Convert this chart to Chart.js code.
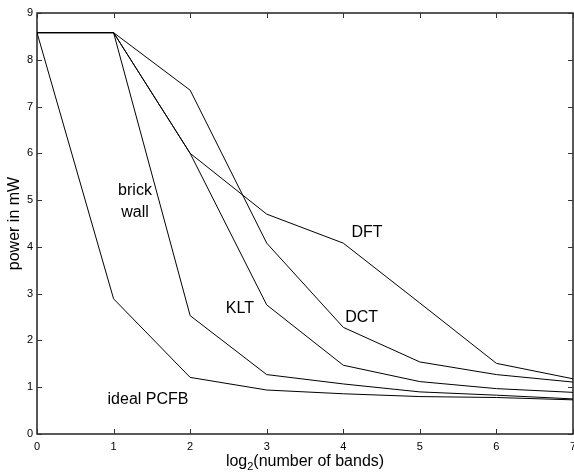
<!DOCTYPE html>
<html>
<head>
<meta charset="utf-8">
<script src="https://cdn.jsdelivr.net/npm/chart.js@4/dist/chart.umd.min.js"></script>
<style>
  html, body { margin: 0; padding: 0; background: #fff; }
  #wrap { width: 574px; height: 473px; position: relative; }
</style>
</head>
<body>
<div id="wrap"><canvas id="chart"></canvas></div>
<script>
const bands = [0, 1, 2, 3, 4, 5, 6, 7]
const idealPcfb = [8.58, 2.89, 1.21, 0.94, 0.86, 0.80, 0.78, 0.73]
const brickWall = [8.58, 8.58, 2.53, 1.27, 1.07, 0.90, 0.83, 0.75]
const klt = [8.58, 8.58, 6.0, 2.76, 1.47, 1.12, 0.97, 0.89]
const dct = [8.58, 8.58, 7.35, 4.08, 2.28, 1.54, 1.27, 1.11]
const dft = [8.58, 8.58, 6.0, 4.7, 4.08, 2.80, 1.51, 1.18]

const xTicks = [0, 1, 2, 3, 4, 5, 6, 7]
const yTicks = [0, 1, 2, 3, 4, 5, 6, 7, 8, 9]

// text labels placed in data coordinates
const notes = [
  { text: 'brick', x: 1.28, y: 5.2 },
  { text: 'wall', x: 1.28, y: 4.74 },
  { text: 'KLT', x: 2.65, y: 2.68 },
  { text: 'DCT', x: 4.24, y: 2.48 },
  { text: 'DFT', x: 4.31, y: 4.3 },
  { text: 'ideal PCFB', x: 1.45, y: 0.73 }
]

const FONT = 'Helvetica, "Liberation Sans", Arial, sans-serif'

function toPoints(values) {
  return values.map((v, i) => ({ x: bands[i], y: v }))
}

function lineSet(label, values) {
  return {
    label,
    data: toPoints(values),
    borderColor: '#000',
    borderWidth: 1,
    pointRadius: 0,
    tension: 0,
    fill: false
  }
}

const framePlugin = {
  id: 'frameAndText',
  afterDraw(chart) {
    const { ctx, chartArea: a, scales } = chart
    const xs = scales.x
    const ys = scales.y
    ctx.save()
    ctx.strokeStyle = '#000'
    ctx.lineWidth = 1.3
    ctx.strokeRect(a.left, a.top, a.right - a.left, a.bottom - a.top)

    // inward ticks on all four sides
    ctx.strokeStyle = '#333'
    ctx.lineWidth = 1
    const len = 5
    xTicks.forEach((t) => {
      const px = Math.round(xs.getPixelForValue(t)) + 0.5
      ctx.beginPath()
      ctx.moveTo(px, a.bottom); ctx.lineTo(px, a.bottom - len)
      ctx.moveTo(px, a.top); ctx.lineTo(px, a.top + len)
      ctx.stroke()
    })
    yTicks.forEach((t) => {
      const py = Math.round(ys.getPixelForValue(t)) + 0.5
      ctx.beginPath()
      ctx.moveTo(a.left, py); ctx.lineTo(a.left + len, py)
      ctx.moveTo(a.right, py); ctx.lineTo(a.right - len, py)
      ctx.stroke()
    })

    // curve labels
    ctx.fillStyle = '#000'
    ctx.font = '16px ' + FONT
    ctx.textAlign = 'center'
    ctx.textBaseline = 'middle'
    notes.forEach((n) => {
      ctx.fillText(n.text, xs.getPixelForValue(n.x), ys.getPixelForValue(n.y))
    })

    // y axis title
    ctx.save()
    ctx.translate(15, (a.top + a.bottom) / 2)
    ctx.rotate(-Math.PI / 2)
    ctx.fillText('power in mW', 0, 0)
    ctx.restore()

    // x axis title with subscript
    const big = '16px ' + FONT
    const small = '11px ' + FONT
    ctx.textAlign = 'left'
    ctx.textBaseline = 'alphabetic'
    ctx.font = big
    const w1 = ctx.measureText('log').width
    const w3 = ctx.measureText('(number of bands)').width
    ctx.font = small
    const w2 = ctx.measureText('2').width
    let x0 = (a.left + a.right) / 2 - (w1 + w2 + w3) / 2
    const base = 466
    ctx.font = big
    ctx.fillText('log', x0, base)
    ctx.font = small
    ctx.fillText('2', x0 + w1, base + 4)
    ctx.font = big
    ctx.fillText('(number of bands)', x0 + w1 + w2, base)
    ctx.restore()
  }
}

function noEdgePadding(scale) {
  scale.paddingLeft = 0
  scale.paddingRight = 0
  scale.paddingTop = 0
  scale.paddingBottom = 0
}

new Chart(document.getElementById('chart'), {
  type: 'line',
  data: {
    datasets: [
      lineSet('ideal PCFB', idealPcfb),
      lineSet('brick wall', brickWall),
      lineSet('KLT', klt),
      lineSet('DCT', dct),
      lineSet('DFT', dft)
    ]
  },
  plugins: [framePlugin],
  options: {
    responsive: true,
    maintainAspectRatio: false,
    animation: false,
    layout: {
      autoPadding: false,
      padding: { left: 0, right: 1, top: 13, bottom: 0 }
    },
    plugins: {
      legend: { display: false },
      tooltip: { enabled: false }
    },
    scales: {
      x: {
        type: 'linear',
        min: 0,
        max: 7,
        afterFit: (scale) => { scale.height = 39; noEdgePadding(scale) },
        afterBuildTicks: (scale) => { scale.ticks = xTicks.map((v) => ({ value: v })) },
        grid: { display: false, drawTicks: false },
        border: { display: false },
        ticks: {
          padding: 6,
          color: '#000',
          font: { family: FONT, size: 11 },
          maxRotation: 0
        }
      },
      y: {
        type: 'linear',
        min: 0,
        max: 9,
        afterFit: (scale) => { scale.width = 37; noEdgePadding(scale) },
        afterBuildTicks: (scale) => { scale.ticks = yTicks.map((v) => ({ value: v })) },
        grid: { display: false, drawTicks: false },
        border: { display: false },
        ticks: {
          padding: 4,
          color: '#000',
          font: { family: FONT, size: 11 }
        }
      }
    }
  }
})
</script>
</body>
</html>
